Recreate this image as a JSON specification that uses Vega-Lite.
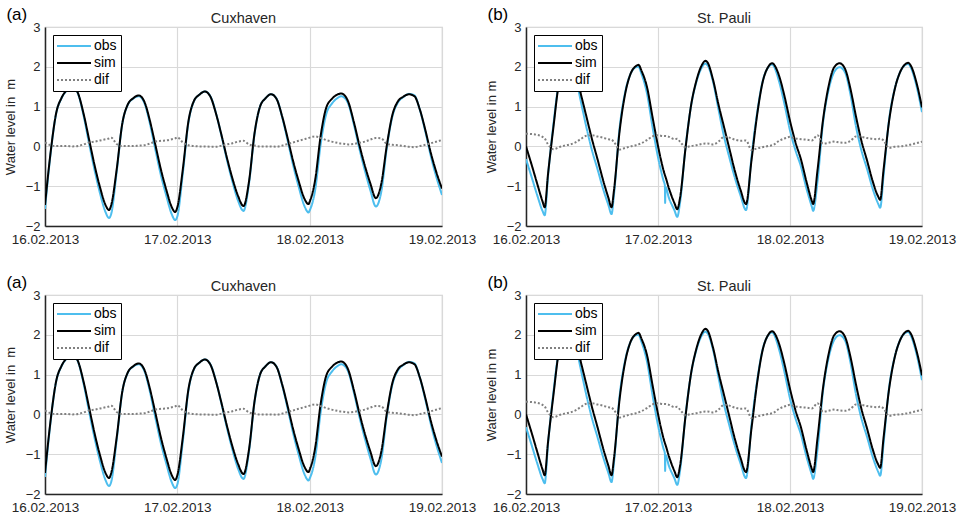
{
"$schema": "https://vega.github.io/schema/vega-lite/v6.json",
"background": "white",
"padding": {"left": 3, "top": 5, "right": 0, "bottom": 0},
"config": {
  "font": "Liberation Sans",
  "view": {"stroke": "#cfcfcf", "strokeWidth": 1.2},
  "axis": {"labelFont": "Liberation Sans", "labelColor": "#262626", "titleFont": "Liberation Sans", "titleColor": "#262626", "titleFontWeight": "normal", "domainColor": "#262626", "domainWidth": 1.5, "gridColor": "#d9d9d9", "gridWidth": 1.2, "ticks": false, "labelOverlap": false},
  "axisX": {"labelFontSize": 13.5, "labelFlush": false, "labelOverlap": false, "labelPadding": 6},
  "axisY": {"labelFontSize": 13, "labelPadding": 5, "labelOverlap": false, "titleFontSize": 13, "titlePadding": 8},
  "legend": {"title": null, "orient": "top-left", "offset": 8, "strokeColor": "#000000", "fillColor": "#ffffff", "padding": 4, "symbolType": "M-1.167,0H4.5", "symbolSize": 144, "symbolStrokeWidth": 2, "labelOffset": 23, "labelFontSize": 14, "labelFont": "Liberation Sans", "labelColor": "#000000", "rowPadding": 3},
  "title": {"font": "Liberation Sans", "fontWeight": "normal", "fontSize": 14.5, "color": "#262626"}
},
"datasets": {
"cux": [
{"time":"2013-02-16T00:00","obs":-1.57,"sim":-1.47,"dif":0.10},
{"time":"2013-02-16T01:00","obs":-0.20,"sim":-0.17,"dif":0.03},
{"time":"2013-02-16T02:00","obs":0.81,"sim":0.82,"dif":0.01},
{"time":"2013-02-16T03:00","obs":1.21,"sim":1.22,"dif":0.01},
{"time":"2013-02-16T04:00","obs":1.41,"sim":1.42,"dif":0.01},
{"time":"2013-02-16T05:00","obs":1.50,"sim":1.50,"dif":0.00},
{"time":"2013-02-16T06:00","obs":1.32,"sim":1.33,"dif":0.01},
{"time":"2013-02-16T07:00","obs":0.77,"sim":0.82,"dif":0.05},
{"time":"2013-02-16T08:00","obs":0.07,"sim":0.17,"dif":0.10},
{"time":"2013-02-16T09:00","obs":-0.60,"sim":-0.48,"dif":0.12},
{"time":"2013-02-16T10:00","obs":-1.19,"sim":-1.04,"dif":0.15},
{"time":"2013-02-16T11:00","obs":-1.66,"sim":-1.48,"dif":0.18},
{"time":"2013-02-16T11:36","obs":-1.80,"sim":-1.60,"dif":0.20},
{"time":"2013-02-16T12:00","obs":-1.70,"sim":-1.48,"dif":0.22},
{"time":"2013-02-16T13:00","obs":-0.64,"sim":-0.58,"dif":0.06},
{"time":"2013-02-16T14:00","obs":0.55,"sim":0.56,"dif":0.01},
{"time":"2013-02-16T15:00","obs":1.04,"sim":1.05,"dif":0.01},
{"time":"2013-02-16T16:00","obs":1.20,"sim":1.21,"dif":0.01},
{"time":"2013-02-16T17:00","obs":1.26,"sim":1.28,"dif":0.02},
{"time":"2013-02-16T18:00","obs":1.10,"sim":1.13,"dif":0.03},
{"time":"2013-02-16T19:00","obs":0.59,"sim":0.66,"dif":0.07},
{"time":"2013-02-16T20:00","obs":-0.07,"sim":0.05,"dif":0.12},
{"time":"2013-02-16T21:00","obs":-0.71,"sim":-0.57,"dif":0.14},
{"time":"2013-02-16T22:00","obs":-1.24,"sim":-1.09,"dif":0.15},
{"time":"2013-02-16T23:00","obs":-1.71,"sim":-1.53,"dif":0.18},
{"time":"2013-02-16T23:36","obs":-1.85,"sim":-1.65,"dif":0.20},
{"time":"2013-02-17T00:00","obs":-1.76,"sim":-1.53,"dif":0.23},
{"time":"2013-02-17T01:00","obs":-0.67,"sim":-0.57,"dif":0.10},
{"time":"2013-02-17T02:00","obs":0.59,"sim":0.62,"dif":0.03},
{"time":"2013-02-17T03:00","obs":1.13,"sim":1.14,"dif":0.01},
{"time":"2013-02-17T04:00","obs":1.30,"sim":1.30,"dif":0.00},
{"time":"2013-02-17T05:00","obs":1.38,"sim":1.38,"dif":0.00},
{"time":"2013-02-17T06:00","obs":1.26,"sim":1.25,"dif":-0.01},
{"time":"2013-02-17T07:00","obs":0.84,"sim":0.83,"dif":-0.01},
{"time":"2013-02-17T08:00","obs":0.27,"sim":0.29,"dif":0.02},
{"time":"2013-02-17T09:00","obs":-0.34,"sim":-0.29,"dif":0.05},
{"time":"2013-02-17T10:00","obs":-0.89,"sim":-0.81,"dif":0.08},
{"time":"2013-02-17T11:00","obs":-1.36,"sim":-1.24,"dif":0.12},
{"time":"2013-02-17T12:00","obs":-1.62,"sim":-1.50,"dif":0.14},
{"time":"2013-02-17T13:00","obs":-0.93,"sim":-0.88,"dif":0.05},
{"time":"2013-02-17T14:00","obs":0.31,"sim":0.33,"dif":0.02},
{"time":"2013-02-17T15:00","obs":1.00,"sim":1.00,"dif":0.00},
{"time":"2013-02-17T16:00","obs":1.21,"sim":1.21,"dif":0.00},
{"time":"2013-02-17T17:00","obs":1.31,"sim":1.31,"dif":0.00},
{"time":"2013-02-17T18:00","obs":1.20,"sim":1.19,"dif":-0.01},
{"time":"2013-02-17T19:00","obs":0.74,"sim":0.76,"dif":0.02},
{"time":"2013-02-17T20:00","obs":0.15,"sim":0.21,"dif":0.06},
{"time":"2013-02-17T21:00","obs":-0.47,"sim":-0.37,"dif":0.10},
{"time":"2013-02-17T22:00","obs":-1.01,"sim":-0.87,"dif":0.14},
{"time":"2013-02-17T23:00","obs":-1.48,"sim":-1.30,"dif":0.18},
{"time":"2013-02-17T23:48","obs":-1.66,"sim":-1.45,"dif":0.21},
{"time":"2013-02-18T00:00","obs":-1.61,"sim":-1.39,"dif":0.22},
{"time":"2013-02-18T01:00","obs":-1.09,"sim":-0.84,"dif":0.25},
{"time":"2013-02-18T02:00","obs":0.06,"sim":0.27,"dif":0.21},
{"time":"2013-02-18T03:00","obs":0.81,"sim":0.97,"dif":0.16},
{"time":"2013-02-18T04:00","obs":1.07,"sim":1.19,"dif":0.12},
{"time":"2013-02-18T05:00","obs":1.21,"sim":1.30,"dif":0.09},
{"time":"2013-02-18T05:42","obs":1.26,"sim":1.33,"dif":0.07},
{"time":"2013-02-18T06:00","obs":1.25,"sim":1.32,"dif":0.07},
{"time":"2013-02-18T07:00","obs":1.07,"sim":1.12,"dif":0.05},
{"time":"2013-02-18T08:00","obs":0.56,"sim":0.62,"dif":0.06},
{"time":"2013-02-18T09:00","obs":-0.05,"sim":0.04,"dif":0.09},
{"time":"2013-02-18T10:00","obs":-0.60,"sim":-0.48,"dif":0.12},
{"time":"2013-02-18T11:00","obs":-1.10,"sim":-0.93,"dif":0.17},
{"time":"2013-02-18T12:00","obs":-1.51,"sim":-1.30,"dif":0.21},
{"time":"2013-02-18T13:00","obs":-1.13,"sim":-0.93,"dif":0.20},
{"time":"2013-02-18T14:00","obs":-0.03,"sim":0.03,"dif":0.06},
{"time":"2013-02-18T15:00","obs":0.75,"sim":0.79,"dif":0.04},
{"time":"2013-02-18T16:00","obs":1.10,"sim":1.13,"dif":0.03},
{"time":"2013-02-18T17:00","obs":1.24,"sim":1.25,"dif":0.01},
{"time":"2013-02-18T18:00","obs":1.32,"sim":1.31,"dif":-0.01},
{"time":"2013-02-18T19:00","obs":1.28,"sim":1.26,"dif":-0.02},
{"time":"2013-02-18T20:00","obs":0.91,"sim":0.92,"dif":0.01},
{"time":"2013-02-18T21:00","obs":0.36,"sim":0.40,"dif":0.04},
{"time":"2013-02-18T22:00","obs":-0.26,"sim":-0.18,"dif":0.08},
{"time":"2013-02-18T23:00","obs":-0.78,"sim":-0.66,"dif":0.12},
{"time":"2013-02-19T00:00","obs":-1.22,"sim":-1.06,"dif":0.16}
],
"pauli": [
{"time":"2013-02-16T00:00","obs":-0.32,"sim":0.00,"dif":0.32},
{"time":"2013-02-16T01:00","obs":-0.76,"sim":-0.45,"dif":0.31},
{"time":"2013-02-16T02:00","obs":-1.21,"sim":-0.92,"dif":0.29},
{"time":"2013-02-16T03:00","obs":-1.62,"sim":-1.38,"dif":0.24},
{"time":"2013-02-16T03:24","obs":-1.73,"sim":-1.53,"dif":0.20},
{"time":"2013-02-16T04:00","obs":-0.75,"sim":-0.70,"dif":0.05},
{"time":"2013-02-16T05:00","obs":0.57,"sim":0.50,"dif":-0.07},
{"time":"2013-02-16T06:00","obs":1.62,"sim":1.60,"dif":-0.02},
{"time":"2013-02-16T07:00","obs":1.96,"sim":1.98,"dif":0.02},
{"time":"2013-02-16T08:00","obs":2.05,"sim":2.10,"dif":0.05},
{"time":"2013-02-16T09:00","obs":1.75,"sim":1.85,"dif":0.10},
{"time":"2013-02-16T10:00","obs":1.11,"sim":1.30,"dif":0.19},
{"time":"2013-02-16T11:00","obs":0.47,"sim":0.74,"dif":0.27},
{"time":"2013-02-16T12:00","obs":-0.10,"sim":0.18,"dif":0.28},
{"time":"2013-02-16T13:00","obs":-0.57,"sim":-0.32,"dif":0.25},
{"time":"2013-02-16T14:00","obs":-1.06,"sim":-0.84,"dif":0.22},
{"time":"2013-02-16T15:00","obs":-1.48,"sim":-1.30,"dif":0.18},
{"time":"2013-02-16T15:33","obs":-1.70,"sim":-1.53,"dif":0.17},
{"time":"2013-02-16T16:00","obs":-1.21,"sim":-1.10,"dif":0.11},
{"time":"2013-02-16T17:00","obs":0.44,"sim":0.36,"dif":-0.08},
{"time":"2013-02-16T18:00","obs":1.34,"sim":1.30,"dif":-0.04},
{"time":"2013-02-16T19:00","obs":1.82,"sim":1.82,"dif":0.00},
{"time":"2013-02-16T20:00","obs":1.99,"sim":2.02,"dif":0.03},
{"time":"2013-02-16T20:27","obs":2.00,"sim":2.05,"dif":0.05},
{"time":"2013-02-16T21:00","obs":1.82,"sim":1.90,"dif":0.08},
{"time":"2013-02-16T22:00","obs":1.33,"sim":1.49,"dif":0.16},
{"time":"2013-02-16T23:00","obs":0.49,"sim":0.74,"dif":0.25},
{"time":"2013-02-17T00:00","obs":-0.27,"sim":0.01,"dif":0.28},
{"time":"2013-02-17T01:00","obs":-0.86,"sim":-0.60,"dif":0.26},
{"time":"2013-02-17T01:15","obs":-0.98,"sim":-0.72,"dif":0.26},
{"time":"2013-02-17T01:18","obs":-1.42,"sim":null,"dif":null},
{"time":"2013-02-17T01:21","obs":-1.02,"sim":-0.76,"dif":0.26},
{"time":"2013-02-17T02:00","obs":-1.30,"sim":-1.06,"dif":0.24},
{"time":"2013-02-17T03:00","obs":-1.61,"sim":-1.43,"dif":0.18},
{"time":"2013-02-17T03:30","obs":-1.77,"sim":-1.58,"dif":0.19},
{"time":"2013-02-17T04:00","obs":-1.42,"sim":-1.30,"dif":0.12},
{"time":"2013-02-17T05:00","obs":-0.03,"sim":-0.05,"dif":-0.02},
{"time":"2013-02-17T06:00","obs":1.01,"sim":1.02,"dif":0.01},
{"time":"2013-02-17T07:00","obs":1.63,"sim":1.66,"dif":0.03},
{"time":"2013-02-17T08:00","obs":1.99,"sim":2.05,"dif":0.06},
{"time":"2013-02-17T08:36","obs":2.08,"sim":2.15,"dif":0.07},
{"time":"2013-02-17T09:00","obs":2.04,"sim":2.11,"dif":0.07},
{"time":"2013-02-17T10:00","obs":1.63,"sim":1.68,"dif":0.05},
{"time":"2013-02-17T11:00","obs":0.93,"sim":1.05,"dif":0.12},
{"time":"2013-02-17T12:00","obs":0.25,"sim":0.49,"dif":0.24},
{"time":"2013-02-17T13:00","obs":-0.29,"sim":-0.07,"dif":0.22},
{"time":"2013-02-17T14:00","obs":-0.80,"sim":-0.63,"dif":0.17},
{"time":"2013-02-17T15:00","obs":-1.23,"sim":-1.09,"dif":0.14},
{"time":"2013-02-17T16:00","obs":-1.60,"sim":-1.45,"dif":0.15},
{"time":"2013-02-17T17:00","obs":-0.26,"sim":-0.35,"dif":-0.09},
{"time":"2013-02-17T18:00","obs":0.82,"sim":0.77,"dif":-0.05},
{"time":"2013-02-17T19:00","obs":1.62,"sim":1.60,"dif":-0.02},
{"time":"2013-02-17T20:00","obs":1.98,"sim":1.99,"dif":0.01},
{"time":"2013-02-17T20:48","obs":2.06,"sim":2.09,"dif":0.03},
{"time":"2013-02-17T21:00","obs":2.03,"sim":2.07,"dif":0.04},
{"time":"2013-02-17T22:00","obs":1.64,"sim":1.78,"dif":0.14},
{"time":"2013-02-17T23:00","obs":1.06,"sim":1.26,"dif":0.20},
{"time":"2013-02-18T00:00","obs":0.40,"sim":0.64,"dif":0.24},
{"time":"2013-02-18T01:00","obs":-0.10,"sim":0.10,"dif":0.20},
{"time":"2013-02-18T02:00","obs":-0.51,"sim":-0.33,"dif":0.18},
{"time":"2013-02-18T03:00","obs":-1.06,"sim":-0.89,"dif":0.17},
{"time":"2013-02-18T04:00","obs":-1.53,"sim":-1.38,"dif":0.15},
{"time":"2013-02-18T04:12","obs":-1.62,"sim":-1.45,"dif":0.17},
{"time":"2013-02-18T05:00","obs":-0.88,"sim":-0.60,"dif":0.28},
{"time":"2013-02-18T06:00","obs":0.59,"sim":0.66,"dif":0.07},
{"time":"2013-02-18T07:00","obs":1.41,"sim":1.50,"dif":0.09},
{"time":"2013-02-18T08:00","obs":1.86,"sim":1.98,"dif":0.12},
{"time":"2013-02-18T09:00","obs":1.99,"sim":2.09,"dif":0.10},
{"time":"2013-02-18T10:00","obs":1.86,"sim":1.95,"dif":0.09},
{"time":"2013-02-18T11:00","obs":1.30,"sim":1.44,"dif":0.14},
{"time":"2013-02-18T12:00","obs":0.50,"sim":0.75,"dif":0.25},
{"time":"2013-02-18T13:00","obs":-0.11,"sim":0.13,"dif":0.24},
{"time":"2013-02-18T14:00","obs":-0.56,"sim":-0.35,"dif":0.21},
{"time":"2013-02-18T15:00","obs":-1.05,"sim":-0.86,"dif":0.19},
{"time":"2013-02-18T16:00","obs":-1.43,"sim":-1.25,"dif":0.18},
{"time":"2013-02-18T16:24","obs":-1.54,"sim":-1.34,"dif":0.20},
{"time":"2013-02-18T17:00","obs":-0.75,"sim":-0.60,"dif":0.15},
{"time":"2013-02-18T18:00","obs":0.66,"sim":0.62,"dif":-0.04},
{"time":"2013-02-18T19:00","obs":1.42,"sim":1.41,"dif":-0.01},
{"time":"2013-02-18T20:00","obs":1.86,"sim":1.86,"dif":0.00},
{"time":"2013-02-18T21:00","obs":2.05,"sim":2.07,"dif":0.02},
{"time":"2013-02-18T21:30","obs":2.07,"sim":2.10,"dif":0.03},
{"time":"2013-02-18T22:00","obs":1.97,"sim":2.02,"dif":0.05},
{"time":"2013-02-18T23:00","obs":1.52,"sim":1.60,"dif":0.08},
{"time":"2013-02-19T00:00","obs":0.86,"sim":0.98,"dif":0.12}
]
},
"columns": 2,
"spacing": {"row": 69, "column": 84},
"bounds": "flush",
"resolve": {"scale": {"color": "independent", "strokeDash": "independent"}, "legend": {"color": "independent", "strokeDash": "independent"}},
"concat": [
{"width": 397, "height": 199,
 "title": {"text": "Cuxhaven", "frame": "group", "anchor": "middle", "offset": -21},
 "layer": [
  {"data": {"name": "cux"},
   "transform": [{"fold": ["obs","sim","dif"], "as": ["series","level"]}, {"filter": "isValid(datum.level)"}],
   "mark": {"type": "line", "interpolate": "monotone", "strokeWidth": 2, "clip": true},
   "encoding": {
     "x": {"field": "time", "type": "temporal", "title": null, "scale": {"domain": [{"year":2013,"month":2,"date":16},{"year":2013,"month":2,"date":19}]}, "axis": {"values": [{"year":2013,"month":2,"date":16},{"year":2013,"month":2,"date":17},{"year":2013,"month":2,"date":18},{"year":2013,"month":2,"date":19}], "format": "%d.%m.%Y"}},
     "y": {"field": "level", "type": "quantitative", "title": "Water level in\u00a0 m", "scale": {"domain": [-2,3], "nice": false, "zero": false}, "axis": {"values": [-2,-1,0,1,2,3]}},
     "color": {"field": "series", "type": "nominal", "scale": {"domain": ["obs","sim","dif"], "range": ["#4DBEEE","#000000","#808080"]}},
     "strokeDash": {"field": "series", "type": "nominal", "scale": {"domain": ["obs","sim","dif"], "range": [[1,0],[1,0],[2,2]]}}
   }},
  {"data": {"values": [{}]},
   "mark": {"type": "text", "text": "(a)", "align": "left", "baseline": "alphabetic", "fontSize": 17, "color": "#000000"},
   "encoding": {
     "x": {"datum": {"year":2013,"month":2,"date":15,"hours":17}, "type": "temporal", "title": null, "scale": {"domain": [{"year":2013,"month":2,"date":16},{"year":2013,"month":2,"date":19}]}, "axis": {"values": [{"year":2013,"month":2,"date":16},{"year":2013,"month":2,"date":17},{"year":2013,"month":2,"date":18},{"year":2013,"month":2,"date":19}], "format": "%d.%m.%Y"}},
     "y": {"datum": 3.18, "type": "quantitative", "title": "Water level in\u00a0 m", "scale": {"domain": [-2,3], "nice": false, "zero": false}, "axis": {"values": [-2,-1,0,1,2,3]}}}}
 ]},
{"width": 396, "height": 199,
 "title": {"text": "St. Pauli", "frame": "group", "anchor": "middle", "offset": -21},
 "layer": [
  {"data": {"name": "pauli"},
   "transform": [{"fold": ["obs","sim","dif"], "as": ["series","level"]}, {"filter": "isValid(datum.level)"}],
   "mark": {"type": "line", "interpolate": "monotone", "strokeWidth": 2, "clip": true},
   "encoding": {
     "x": {"field": "time", "type": "temporal", "title": null, "scale": {"domain": [{"year":2013,"month":2,"date":16},{"year":2013,"month":2,"date":19}]}, "axis": {"values": [{"year":2013,"month":2,"date":16},{"year":2013,"month":2,"date":17},{"year":2013,"month":2,"date":18},{"year":2013,"month":2,"date":19}], "format": "%d.%m.%Y"}},
     "y": {"field": "level", "type": "quantitative", "title": "Water level in m", "scale": {"domain": [-2,3], "nice": false, "zero": false}, "axis": {"values": [-2,-1,0,1,2,3]}},
     "color": {"field": "series", "type": "nominal", "scale": {"domain": ["obs","sim","dif"], "range": ["#4DBEEE","#000000","#808080"]}},
     "strokeDash": {"field": "series", "type": "nominal", "scale": {"domain": ["obs","sim","dif"], "range": [[1,0],[1,0],[2,2]]}}
   }},
  {"data": {"values": [{}]},
   "mark": {"type": "text", "text": "(b)", "align": "left", "baseline": "alphabetic", "fontSize": 17, "color": "#000000"},
   "encoding": {
     "x": {"datum": {"year":2013,"month":2,"date":15,"hours":17}, "type": "temporal", "title": null, "scale": {"domain": [{"year":2013,"month":2,"date":16},{"year":2013,"month":2,"date":19}]}, "axis": {"values": [{"year":2013,"month":2,"date":16},{"year":2013,"month":2,"date":17},{"year":2013,"month":2,"date":18},{"year":2013,"month":2,"date":19}], "format": "%d.%m.%Y"}},
     "y": {"datum": 3.18, "type": "quantitative", "title": "Water level in m", "scale": {"domain": [-2,3], "nice": false, "zero": false}, "axis": {"values": [-2,-1,0,1,2,3]}}}}
 ]},
{"width": 397, "height": 199,
 "title": {"text": "Cuxhaven", "frame": "group", "anchor": "middle", "offset": -21},
 "layer": [
  {"data": {"name": "cux"},
   "transform": [{"fold": ["obs","sim","dif"], "as": ["series","level"]}, {"filter": "isValid(datum.level)"}],
   "mark": {"type": "line", "interpolate": "monotone", "strokeWidth": 2, "clip": true},
   "encoding": {
     "x": {"field": "time", "type": "temporal", "title": null, "scale": {"domain": [{"year":2013,"month":2,"date":16},{"year":2013,"month":2,"date":19}]}, "axis": {"values": [{"year":2013,"month":2,"date":16},{"year":2013,"month":2,"date":17},{"year":2013,"month":2,"date":18},{"year":2013,"month":2,"date":19}], "format": "%d.%m.%Y"}},
     "y": {"field": "level", "type": "quantitative", "title": "Water level in\u00a0 m", "scale": {"domain": [-2,3], "nice": false, "zero": false}, "axis": {"values": [-2,-1,0,1,2,3]}},
     "color": {"field": "series", "type": "nominal", "scale": {"domain": ["obs","sim","dif"], "range": ["#4DBEEE","#000000","#808080"]}},
     "strokeDash": {"field": "series", "type": "nominal", "scale": {"domain": ["obs","sim","dif"], "range": [[1,0],[1,0],[2,2]]}}
   }},
  {"data": {"values": [{}]},
   "mark": {"type": "text", "text": "(a)", "align": "left", "baseline": "alphabetic", "fontSize": 17, "color": "#000000"},
   "encoding": {
     "x": {"datum": {"year":2013,"month":2,"date":15,"hours":17}, "type": "temporal", "title": null, "scale": {"domain": [{"year":2013,"month":2,"date":16},{"year":2013,"month":2,"date":19}]}, "axis": {"values": [{"year":2013,"month":2,"date":16},{"year":2013,"month":2,"date":17},{"year":2013,"month":2,"date":18},{"year":2013,"month":2,"date":19}], "format": "%d.%m.%Y"}},
     "y": {"datum": 3.18, "type": "quantitative", "title": "Water level in\u00a0 m", "scale": {"domain": [-2,3], "nice": false, "zero": false}, "axis": {"values": [-2,-1,0,1,2,3]}}}}
 ]},
{"width": 396, "height": 199,
 "title": {"text": "St. Pauli", "frame": "group", "anchor": "middle", "offset": -21},
 "layer": [
  {"data": {"name": "pauli"},
   "transform": [{"fold": ["obs","sim","dif"], "as": ["series","level"]}, {"filter": "isValid(datum.level)"}],
   "mark": {"type": "line", "interpolate": "monotone", "strokeWidth": 2, "clip": true},
   "encoding": {
     "x": {"field": "time", "type": "temporal", "title": null, "scale": {"domain": [{"year":2013,"month":2,"date":16},{"year":2013,"month":2,"date":19}]}, "axis": {"values": [{"year":2013,"month":2,"date":16},{"year":2013,"month":2,"date":17},{"year":2013,"month":2,"date":18},{"year":2013,"month":2,"date":19}], "format": "%d.%m.%Y"}},
     "y": {"field": "level", "type": "quantitative", "title": "Water level in m", "scale": {"domain": [-2,3], "nice": false, "zero": false}, "axis": {"values": [-2,-1,0,1,2,3]}},
     "color": {"field": "series", "type": "nominal", "scale": {"domain": ["obs","sim","dif"], "range": ["#4DBEEE","#000000","#808080"]}},
     "strokeDash": {"field": "series", "type": "nominal", "scale": {"domain": ["obs","sim","dif"], "range": [[1,0],[1,0],[2,2]]}}
   }},
  {"data": {"values": [{}]},
   "mark": {"type": "text", "text": "(b)", "align": "left", "baseline": "alphabetic", "fontSize": 17, "color": "#000000"},
   "encoding": {
     "x": {"datum": {"year":2013,"month":2,"date":15,"hours":17}, "type": "temporal", "title": null, "scale": {"domain": [{"year":2013,"month":2,"date":16},{"year":2013,"month":2,"date":19}]}, "axis": {"values": [{"year":2013,"month":2,"date":16},{"year":2013,"month":2,"date":17},{"year":2013,"month":2,"date":18},{"year":2013,"month":2,"date":19}], "format": "%d.%m.%Y"}},
     "y": {"datum": 3.18, "type": "quantitative", "title": "Water level in m", "scale": {"domain": [-2,3], "nice": false, "zero": false}, "axis": {"values": [-2,-1,0,1,2,3]}}}}
 ]}
]
}
